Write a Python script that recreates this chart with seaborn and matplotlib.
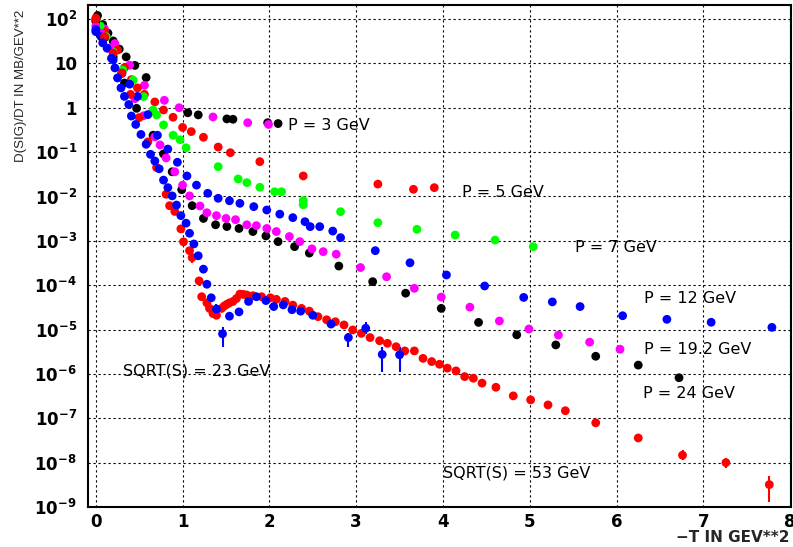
import numpy as np
import matplotlib
matplotlib.use("Agg")
import matplotlib.pyplot as plt
import seaborn as sns
from matplotlib.ticker import FixedLocator, FuncFormatter, MultipleLocator, NullFormatter

# data: -t in GeV**2, dsig/dt in mb/GeV**2
p3_black_t = [0.02, 0.08, 0.14, 0.2, 0.27, 0.35, 0.45, 0.58, 1.06, 1.18, 1.51, 1.58, 1.98, 2.1]
p3_black_y = [120, 75, 48, 32, 21, 14, 9, 4.8, 0.77, 0.69, 0.56, 0.55, 0.46, 0.44]
p3_mag_t = [0.1, 0.22, 0.39, 0.56, 0.79, 0.96, 1.35, 1.75, 1.99]
p3_mag_y = [60, 28, 9.1, 3.2, 1.47, 1.0, 0.62, 0.46, 0.42]

p5_t = [0.0, 0.1, 0.25, 0.33, 0.41, 0.48, 0.56, 0.68, 0.78, 0.89, 1.0, 1.1, 1.24, 1.41, 1.55,
        1.89, 2.39, 3.25, 3.66, 3.9]
p5_y = [105, 52, 20, 8, 4.3, 2.8, 2.0, 1.35, 0.89, 0.61, 0.36, 0.29, 0.216, 0.13, 0.097,
        0.061, 0.029, 0.019, 0.0145, 0.0158]

p7_t = [0.0, 0.05, 0.12, 0.2, 0.31, 0.43, 0.55, 0.66, 0.7, 0.78, 0.89, 0.97, 1.04, 1.41, 1.64,
        1.74, 1.89, 2.06, 2.14, 2.39, 2.39, 2.82, 3.25, 3.7, 4.14, 4.6, 5.04]
p7_y = [95, 70, 40, 18, 7.1, 4.2, 1.78, 0.89, 0.69, 0.41, 0.24, 0.19, 0.125, 0.047, 0.0248,
        0.0205, 0.0161, 0.0128, 0.0128, 0.0081, 0.0065, 0.00454, 0.00256, 0.00182, 0.00135,
        0.00104, 0.00074]

p12_t = [0.0, 0.06, 0.13, 0.2, 0.3, 0.39, 0.48, 0.6, 0.71, 0.83, 0.94, 1.05, 1.16, 1.29, 1.41,
         1.54, 1.66, 1.82, 1.97, 2.12, 2.27, 2.41, 2.47, 2.58, 2.73, 2.82, 3.22, 3.62, 4.04,
         4.48, 4.93, 5.26, 5.58, 6.07, 6.58, 7.09, 7.79]
p12_y = [58, 40, 22, 12, 6, 3.4, 1.8, 0.7, 0.24, 0.117, 0.059, 0.029, 0.018, 0.0118, 0.0091,
         0.008, 0.007, 0.0059, 0.00495, 0.004, 0.00333, 0.0027, 0.00209, 0.00209, 0.00166,
         0.00118, 0.0006, 0.00032, 0.00017, 9.6e-5, 5.3e-5, 4.2e-5, 3.3e-5, 2.05e-5, 1.7e-5,
         1.46e-5, 1.12e-5]

p19_t = [0.0, 0.06, 0.15, 0.3, 0.45, 0.55, 0.68, 0.74, 0.81, 0.91, 1.0, 1.08, 1.2, 1.28, 1.39,
         1.5, 1.61, 1.74, 1.85, 1.97, 2.08, 2.23, 2.35, 2.49, 2.62, 2.77, 3.05, 3.35, 3.67,
         3.98, 4.31, 4.65, 4.99, 5.33, 5.69, 6.04]
p19_y = [70, 48, 22, 6, 1.6, 0.66, 0.22, 0.145, 0.074, 0.036, 0.018, 0.0103, 0.0061, 0.0043,
         0.0037, 0.0032, 0.003, 0.0023, 0.0022, 0.0019, 0.00162, 0.00125, 0.00096, 0.00066,
         0.00057, 0.0005, 0.00025, 0.000155, 8.5e-5, 5.4e-5, 3.2e-5, 1.56e-5, 1.03e-5, 7.5e-6,
         5.2e-6, 3.6e-6]

p24_t = [0.0, 0.1, 0.2, 0.33, 0.47, 0.66, 0.78, 0.88, 0.99, 1.11, 1.24, 1.38, 1.51, 1.65, 1.81,
         1.96, 2.1, 2.29, 2.46, 2.8, 3.19, 3.57, 3.98, 4.41, 4.85, 5.3, 5.76, 6.25, 6.72]
p24_y = [90, 38, 14, 3.6, 0.97, 0.24, 0.091, 0.036, 0.0142, 0.0062, 0.0032, 0.0023, 0.0021,
         0.0019, 0.00162, 0.00129, 0.00096, 0.00074, 0.00053, 0.00027, 0.00012, 6.6e-5, 3e-5,
         1.45e-5, 7.6e-6, 4.5e-6, 2.5e-6, 1.58e-6, 8.2e-7]

s23_t = [0.0, 0.08, 0.18, 0.22, 0.25, 0.29, 0.33, 0.38, 0.41, 0.46, 0.52, 0.58, 0.63, 0.68,
         0.73, 0.78, 0.83, 0.88, 0.93, 0.98, 1.04, 1.08, 1.13, 1.18, 1.24, 1.28, 1.33, 1.39,
         1.46, 1.54, 1.65, 1.76, 1.85, 1.96, 2.05, 2.16, 2.26, 2.36, 2.5, 2.71, 2.91, 3.11,
         3.3, 3.5]
s23_y = [52, 29, 13, 7.9, 4.7, 2.8, 1.8, 1.18, 0.65, 0.42, 0.25, 0.15, 0.089, 0.063, 0.042,
         0.0234, 0.0158, 0.0103, 0.0064, 0.0037, 0.0025, 0.00148, 0.00085, 0.00046, 0.00023,
         1.05e-4, 5.2e-5, 2.9e-5, 8e-6, 2.0e-5, 2.5e-5, 4.3e-5, 5.5e-5, 4.5e-5, 3.3e-5, 3.6e-5,
         2.8e-5, 2.6e-5, 2.1e-5, 1.33e-5, 6.6e-6, 1.07e-5, 2.75e-6, 2.7e-6]
s23_err_t = [1.39, 1.46, 1.54, 1.65, 2.05, 2.16, 2.71, 2.91, 3.11, 3.3, 3.5]
s23_err_lo = [2.2e-5, 4.1e-6, 1.6e-5, 2.0e-5, 2.7e-5, 3.0e-5, 1.1e-5, 4.1e-6, 8.0e-6, 1.1e-6, 1.1e-6]
s23_err_hi = [3.8e-5, 1.16e-5, 2.5e-5, 3.1e-5, 4.1e-5, 4.4e-5, 1.6e-5, 8.5e-6, 1.45e-5, 4.1e-6, 4.1e-6]

s53_t = [0.0, 0.1, 0.2, 0.3, 0.4, 0.5, 0.6, 0.7, 0.81, 0.85, 0.91, 0.98, 1.01, 1.08, 1.11,
         1.19, 1.22, 1.28, 1.31, 1.35, 1.39, 1.45, 1.48, 1.51, 1.54, 1.58, 1.62, 1.66, 1.7,
         1.74, 1.81, 1.91, 2.01, 2.08, 2.18, 2.27, 2.37, 2.46, 2.56, 2.66, 2.76, 2.86, 2.96,
         3.06, 3.16, 3.27, 3.36, 3.46, 3.56, 3.67, 3.77, 3.87, 3.96, 4.05, 4.15, 4.25, 4.35,
         4.45, 4.61, 4.81, 5.01, 5.21, 5.41, 5.76, 6.25, 6.76, 7.26, 7.76]
s53_y = [100, 40, 17, 6, 2, 0.6, 0.17, 0.045, 0.0112, 0.0062, 0.0046, 0.00186, 0.00095, 0.0006,
         0.00042, 0.000125, 5.5e-5, 4.0e-5, 3.0e-5, 2.3e-5, 2.1e-5, 3.0e-5, 3.4e-5, 3.7e-5,
         4.0e-5, 4.3e-5, 5.0e-5, 6.3e-5, 6.2e-5, 6.0e-5, 5.8e-5, 5.5e-5, 5.2e-5, 4.8e-5, 4.3e-5,
         3.55e-5, 3.0e-5, 2.6e-5, 1.95e-5, 1.66e-5, 1.5e-5, 1.27e-5, 9.8e-6, 8.2e-6, 6.6e-6,
         5.6e-6, 4.9e-6, 4.1e-6, 3.3e-6, 3.3e-6, 2.24e-6, 1.9e-6, 1.65e-6, 1.35e-6, 1.17e-6,
         8.7e-7, 8.0e-7, 6.2e-7, 5.0e-7, 3.2e-7, 2.6e-7, 2.0e-7, 1.48e-7, 7.9e-8, 3.6e-8,
         1.47e-8, 1.0e-8, 3.2e-9]
s53_err_t = [1.11, 6.76, 7.26, 7.76]
s53_err_lo = [3.2e-4, 1.15e-8, 7.5e-9, 1.32e-9]
s53_err_hi = [5.5e-4, 1.9e-8, 1.3e-8, 5.0e-9]

labels = ["P = 3 GeV", "P = 5 GeV", "P = 7 GeV", "P = 12 GeV", "P = 19.2 GeV", "P = 24 GeV",
          "SQRT(S) = 23 GeV", "SQRT(S) = 53 GeV"]
label_t = [2.21, 4.22, 5.52, 6.32, 6.32, 6.31, 0.315, 4.0]
label_y = [0.39, 0.0122, 7.1e-4, 5.1e-5, 3.6e-6, 3.66e-7, 1.18e-6, 5.9e-9]

sns.set_style("white")
plt.rcParams['font.family'] = ['DejaVu Sans']
plt.rcParams['font.weight'] = 'bold'
plt.rcParams['mathtext.fontset'] = 'custom'
plt.rcParams['mathtext.rm'] = 'DejaVu Sans:bold'
plt.rcParams['mathtext.it'] = 'DejaVu Sans:bold:italic'
plt.rcParams['mathtext.bf'] = 'DejaVu Sans:bold'

fig = plt.figure(figsize=(7.93, 5.47), dpi=100)
ax = fig.add_axes([88/793, 1-507/547, (791-88)/793, (507-5)/547])
ax.set_yscale('log')


def dots(t, y, c):
    sns.scatterplot(x=t, y=y, color=c, s=40, edgecolor='none', marker='o', ax=ax, zorder=3)


def bars(t, y, et, lo, hi, c):
    yy = dict(zip(t, y))
    ym = np.array([yy[v] for v in et])
    ax.errorbar(et, ym, yerr=[ym-np.array(lo), np.array(hi)-ym], fmt='none',
                ecolor=c, elinewidth=1.5, capsize=0, zorder=2)


dots(p3_black_t, p3_black_y, 'black')
dots(p3_mag_t, p3_mag_y, '#ff00ff')
dots(p5_t, p5_y, '#ff0000')
dots(p7_t, p7_y, '#00ff00')
dots(p24_t, p24_y, 'black')
dots(p19_t, p19_y, '#ff00ff')
dots(p12_t, p12_y, '#0000ff')
bars(s53_t, s53_y, s53_err_t, s53_err_lo, s53_err_hi, '#ff0000')
dots(s53_t, s53_y, '#ff0000')
bars(s23_t, s23_y, s23_err_t, s23_err_lo, s23_err_hi, '#0000ff')
dots(s23_t, s23_y, '#0000ff')

for lab, t, y in zip(labels, label_t, label_y):
    ax.text(t, y, lab, fontsize=11.5, fontweight='normal', va='center', ha='left', color='black')

ax.set_xlim(-0.09, 8.01)
ax.set_ylim(1e-9, 207)
ax.xaxis.set_major_locator(FixedLocator(range(0, 9)))
ax.xaxis.set_minor_locator(MultipleLocator(0.2))
ax.yaxis.set_major_locator(FixedLocator([10.0**k for k in range(-9, 3)]))
ax.yaxis.set_minor_locator(FixedLocator([m*10.0**k for k in range(-9, 3) for m in range(2, 10)]))
ax.yaxis.set_minor_formatter(NullFormatter())


def yfmt(v, pos):
    k = int(round(np.log10(v)))
    if k == 1:
        return '10'
    if k == 0:
        return '1'
    return r'$10^{%d}$' % k


ax.yaxis.set_major_formatter(FuncFormatter(yfmt))
ax.tick_params(which='both', direction='in', top=False, right=False, colors='black',
               labelsize=12)
ax.tick_params(which='major', length=9, width=1)
ax.tick_params(which='minor', length=5, width=1)
ax.tick_params(axis='y', pad=8)
ax.tick_params(axis='x', pad=4)
ax.grid(True, which='major', color='black', linestyle=(0, (2, 2.5)), linewidth=0.8)
for sp in ax.spines.values():
    sp.set_color('black')
    sp.set_linewidth(1.5)
ax.set_xlabel('')
ax.set_ylabel('')

fig.text(21/793, 1-86/547, 'D(SIG)/DT IN MB/GEV**2', rotation=90, ha='center', va='center',
         fontsize=9.5, fontweight='normal', family=['Liberation Sans Narrow', 'Liberation Sans', 'DejaVu Sans'])
fig.text(790/793, 1-537/547, '\u2212T IN GEV**2', ha='right', va='center', fontsize=11)

fig.savefig('out.png', dpi=100, facecolor='white')
